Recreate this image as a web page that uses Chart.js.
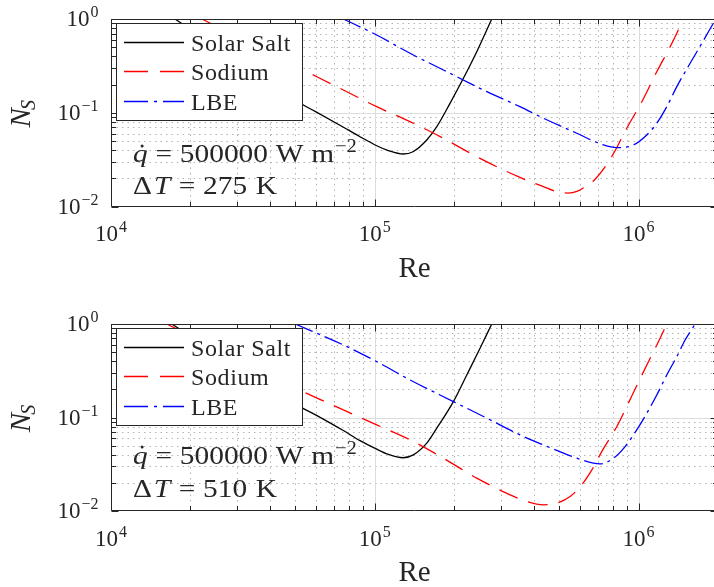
<!DOCTYPE html>
<html>
<head>
<meta charset="utf-8">
<script src="https://cdn.jsdelivr.net/npm/chart.js@4.4.0/dist/chart.umd.min.js"></script>
<style>
html, body { margin: 0; padding: 0; background: #fff; overflow: hidden; }
#wrap { position: relative; width: 714px; height: 587px; overflow: hidden; }
canvas { position: absolute; left: 0; }
</style>
</head>
<body>
<div id="wrap">
  <canvas id="panelA" width="722" height="295" style="top:0"></canvas>
  <canvas id="panelB" width="722" height="292" style="top:295px"></canvas>
</div>
<script>
// Entropy generation number N_S vs Reynolds number, two wall temperature differences
const seriesNames = ['Solar Salt', 'Sodium', 'LBE'];
const heatFlux = 500000;      // W m^-2
const deltaT = [275, 510];    // K, upper / lower panel
const reRange = [1e4, 2e6];
const nsRange = [1e-2, 1];
const xTickExp = [4, 5, 6];
const yTickExp = [0, -1, -2];

// upper panel (ΔT = 275 K)
const reSaltA = [1.748e4, 5.28e4, 5.94e4, 7.58e4, 8.79e4, 1.017e5, 1.126e5, 1.28e5, 1.396e5, 1.574e5, 1.718e5, 1.928e5, 2.167e5, 2.435e5, 2.776e5];
const nsSaltA = [1.0, 0.124, 0.1035, 0.0705, 0.0555, 0.0445, 0.0395, 0.0363, 0.0384, 0.0512, 0.071, 0.126, 0.233, 0.448, 1.0];
const reSodiumA = [2.21e4, 5.36e4, 6.03e4, 7.60e4, 1.017e5, 1.36e5, 1.82e5, 2.435e5, 3.50e5, 4.36e5, 4.82e5, 5.4e5, 5.87e5, 6.36e5, 6.84e5, 7.91e5, 9.02e5, 1.037e6, 1.172e6, 1.336e6, 1.479e6];
const nsSodiumA = [1.0, 0.286, 0.242, 0.175, 0.116, 0.0803, 0.0534, 0.034, 0.0208, 0.0163, 0.0146, 0.0139, 0.0146, 0.0167, 0.0195, 0.034, 0.0684, 0.1368, 0.274, 0.547, 1.0];
const reLbeA = [7.60e4, 1.017e5, 1.36e5, 1.82e5, 2.66e5, 3.55e5, 4.36e5, 5.83e5, 7.36e5, 8.27e5, 9.56e5, 1.074e6, 1.172e6, 1.279e6, 1.396e6, 1.568e6, 1.736e6, 1.921e6, 1.965e6];
const nsLbeA = [1.0, 0.675, 0.431, 0.286, 0.1677, 0.116, 0.0873, 0.0604, 0.0453, 0.0424, 0.0453, 0.0579, 0.0772, 0.116, 0.19, 0.337, 0.55, 0.90, 1.0];

// lower panel (ΔT = 510 K)
const reSaltB = [1.70e4, 5.28e4, 5.94e4, 7.60e4, 8.79e4, 1.017e5, 1.12e5, 1.28e5, 1.40e5, 1.574e5, 1.718e5, 1.986e5, 2.232e5, 2.506e5, 2.776e5];
const nsSaltB = [1.0, 0.1275, 0.1075, 0.0725, 0.0565, 0.0458, 0.0405, 0.0371, 0.0398, 0.0531, 0.0769, 0.148, 0.285, 0.55, 1.0];
const reSodiumB = [1.626e4, 5.68e4, 7.60e4, 1.017e5, 1.36e5, 1.82e5, 2.435e5, 3.256e5, 3.765e5, 4.36e5, 4.90e5, 5.50e5, 6.09e5, 6.65e5, 7.25e5, 8.27e5, 8.89e5, 9.84e5, 1.106e6, 1.189e6, 1.279e6];
const nsSodiumB = [1.0, 0.1744, 0.1206, 0.0834, 0.0577, 0.0367, 0.02246, 0.0149, 0.01263, 0.01165, 0.01214, 0.01428, 0.01905, 0.0275, 0.0432, 0.080, 0.1206, 0.219, 0.43, 0.647, 1.0];
const reLbeB = [4.99e4, 7.60e4, 1.017e5, 1.36e5, 1.986e5, 2.66e5, 3.55e5, 4.36e5, 5.83e5, 6.74e5, 7.14e5, 8.03e5, 8.89e5, 9.84e5, 1.074e6, 1.172e6, 1.279e6, 1.396e6, 1.501e6, 1.614e6, 1.638e6];
const nsLbeB = [1.0, 0.597, 0.396, 0.252, 0.148, 0.0983, 0.0652, 0.0509, 0.0367, 0.0325, 0.0319, 0.0367, 0.0489, 0.0737, 0.111, 0.174, 0.285, 0.448, 0.675, 0.935, 1.0];

const lineColors = ['#000000', '#ff0000', '#0000ff'];
const lineDash = [[], [20, 11], [19, 5, 3, 5]];
const legendDash = [[], [24, 12], [24, 6, 3, 6]];

const SERIF = '"Liberation Serif", "Times New Roman", serif';
const INK = '#262626';

function pts(re, ns) {
    return re.map((r, i) => ({ x: r, y: ns[i] }));
}

// 1..9 x 10^n positions inside [min, max]
function logSteps(min, max) {
    const major = [], minor = [];
    for (let e = Math.floor(Math.log10(min)); e <= Math.ceil(Math.log10(max)); e++) {
        for (let m = 1; m < 10; m++) {
            const v = m * Math.pow(10, e);
            if (v < min * 0.999 || v > max * 1.001) continue;
            (m === 1 ? major : minor).push(v);
        }
    }
    return { major, minor };
}

// "10" with a raised exponent; align = 'center' or 'right'
function drawPow(ctx, exp, x, y, align) {
    const e = String(exp).replace('-', '\u2212');
    ctx.font = '23px ' + SERIF;
    const wb = ctx.measureText('10').width;
    ctx.font = '16px ' + SERIF;
    const we = ctx.measureText(e).width;
    const total = wb + 1 + we;
    const x0 = align === 'center' ? x - total / 2 : x - total;
    ctx.textAlign = 'left';
    ctx.textBaseline = 'alphabetic';
    ctx.font = '23px ' + SERIF;
    ctx.fillText('10', x0, y);
    ctx.font = '16px ' + SERIF;
    ctx.fillText(e, x0 + wb + 1, y - 9);
}

// one line of math-style text, glyphs widened by sx; gaps are in em
function mathRow(ctx, x, y, F, sx, pieces) {
    ctx.save();
    ctx.translate(x, y);
    ctx.scale(sx, 1);
    let cx = 0;
    pieces.forEach(p => {
        if (p.gap !== undefined) { cx += p.gap * F / sx; return; }
        const size = p.sup ? F * 0.7 : F;
        ctx.font = (p.it ? 'italic ' : '') + size + 'px ' + SERIF;
        const w = ctx.measureText(p.t).width;
        ctx.fillText(p.t, cx, p.sup ? -F * 0.38 : 0);
        if (p.dot) {
            ctx.beginPath();
            ctx.ellipse(cx + w * 0.62, -F * 0.63, 1.5 / sx, 1.5, 0, 0, Math.PI * 2);
            ctx.fill();
        }
        cx += w;
    });
    ctx.restore();
}

const matlabAxes = {
    id: 'matlabAxes',
    beforeDraw(chart) {
        const ctx = chart.ctx;
        ctx.save();
        ctx.fillStyle = '#fff';
        ctx.fillRect(0, 0, chart.width, chart.height);
        ctx.restore();
    },
    beforeDatasetsDraw(chart) {
        const { ctx, chartArea: a, scales: { x, y } } = chart;
        const xs = logSteps(reRange[0], reRange[1]);
        const ys = logSteps(nsRange[0], nsRange[1]);
        ctx.save();
        ctx.beginPath();
        ctx.rect(a.left, a.top, a.right - a.left, a.bottom - a.top);
        ctx.clip();
        ctx.lineWidth = 1;
        // minor grid, dotted
        ctx.strokeStyle = '#b4b4b4';
        ctx.setLineDash([1.5, 4]);
        ctx.beginPath();
        xs.minor.forEach(v => {
            const p = Math.round(x.getPixelForValue(v)) + 0.5;
            ctx.moveTo(p, a.top); ctx.lineTo(p, a.bottom);
        });
        ys.minor.forEach(v => {
            const p = Math.round(y.getPixelForValue(v)) + 0.5;
            ctx.moveTo(a.left, p); ctx.lineTo(a.right, p);
        });
        ctx.stroke();
        // decade grid, solid
        ctx.setLineDash([]);
        ctx.strokeStyle = '#dcdcdc';
        ctx.beginPath();
        xs.major.forEach(v => {
            const p = Math.round(x.getPixelForValue(v)) + 0.5;
            ctx.moveTo(p, a.top); ctx.lineTo(p, a.bottom);
        });
        ys.major.forEach(v => {
            const p = Math.round(y.getPixelForValue(v)) + 0.5;
            ctx.moveTo(a.left, p); ctx.lineTo(a.right, p);
        });
        ctx.stroke();
        ctx.restore();
    },
    afterDatasetsDraw(chart, args, opts) {
        const { ctx, chartArea: a, scales: { x, y } } = chart;
        const xs = logSteps(reRange[0], reRange[1]);
        const ys = logSteps(nsRange[0], nsRange[1]);
        const L = Math.round(a.left) + 0.5, R = Math.round(a.right) - 0.5;
        const T = Math.round(a.top) + 0.5, B = Math.round(a.bottom) - 0.5;
        ctx.save();

        // box and inward ticks
        ctx.strokeStyle = INK;
        ctx.lineWidth = 1;
        ctx.setLineDash([]);
        ctx.beginPath();
        ctx.rect(L, T, R - L, B - T);
        [[xs.major, 7], [xs.minor, 4.5]].forEach(([vals, len]) => vals.forEach(v => {
            const p = Math.round(x.getPixelForValue(v)) + 0.5;
            ctx.moveTo(p, B); ctx.lineTo(p, B - len);
            ctx.moveTo(p, T); ctx.lineTo(p, T + len);
        }));
        [[ys.major, 7], [ys.minor, 4.5]].forEach(([vals, len]) => vals.forEach(v => {
            const p = Math.round(y.getPixelForValue(v)) + 0.5;
            ctx.moveTo(L, p); ctx.lineTo(L + len, p);
            ctx.moveTo(R, p); ctx.lineTo(R - len, p);
        }));
        ctx.stroke();

        // tick labels
        ctx.fillStyle = INK;
        xTickExp.forEach(e => drawPow(ctx, e, x.getPixelForValue(Math.pow(10, e)), a.bottom + 34.5, 'center'));
        yTickExp.forEach(e => drawPow(ctx, e, a.left - 12.5, y.getPixelForValue(Math.pow(10, e)) + 7, 'right'));

        // axis labels
        ctx.textAlign = 'center';
        ctx.font = '29px ' + SERIF;
        ctx.fillText('Re', (a.left + a.right) / 2, a.bottom + 70);
        ctx.save();
        ctx.translate(30, (a.top + a.bottom) / 2);
        ctx.rotate(-Math.PI / 2);
        ctx.textAlign = 'left';
        ctx.font = 'italic 29px ' + SERIF;
        const wN = ctx.measureText('N').width;
        ctx.font = 'italic 20px ' + SERIF;
        const wS = ctx.measureText('S').width;
        const x0 = -(wN + wS) / 2;
        ctx.font = 'italic 29px ' + SERIF;
        ctx.fillText('N', x0, 0);
        ctx.font = 'italic 20px ' + SERIF;
        ctx.fillText('S', x0 + wN - 2, 5);
        ctx.restore();

        // heat flux / temperature difference note
        ctx.textAlign = 'left';
        const nx = a.left + 22;
        mathRow(ctx, nx, a.top + opts.noteY[0], 26, 1.13, [
            { t: 'q', it: true, dot: true }, { gap: 0.3 },
            { t: '=' }, { gap: 0.3 },
            { t: String(heatFlux) }, { gap: 0.3 },
            { t: 'W' }, { gap: 0.3 },
            { t: 'm' }, { gap: 0.03 }, { t: '\u22122', sup: true }
        ]);
        mathRow(ctx, nx, a.top + opts.noteY[1], 26, 1.13, [
            { t: '\u0394' }, { gap: 0.08 }, { t: 'T', it: true }, { gap: 0.32 },
            { t: '=' }, { gap: 0.3 },
            { t: String(opts.dT) }, { gap: 0.33 },
            { t: 'K' }
        ]);

        // legend
        const lx = a.left + 5, ly = a.top + opts.legendTop, lw = 186, lh = 97;
        ctx.fillStyle = '#fff';
        ctx.fillRect(lx, ly, lw, lh);
        ctx.strokeStyle = INK;
        ctx.lineWidth = 1;
        ctx.strokeRect(Math.round(lx) + 0.5, Math.round(ly) + 0.5, lw, lh);
        chart.data.datasets.forEach((ds, i) => {
            const cy = Math.round(ly + 18.5 + i * 29.5) + 0.5;
            ctx.strokeStyle = ds.borderColor;
            ctx.lineWidth = ds.borderWidth;
            ctx.setLineDash(ds.legendDash);
            ctx.beginPath();
            ctx.moveTo(lx + 8, cy);
            ctx.lineTo(lx + 68, cy);
            ctx.stroke();
            ctx.setLineDash([]);
            ctx.fillStyle = INK;
            ctx.font = '24px ' + SERIF;
            ctx.letterSpacing = '0.6px';
            ctx.fillText(ds.label, lx + 75, cy + 8);
            ctx.letterSpacing = '0px';
        });
        ctx.restore();
    }
};

function panel(id, sets, dT, pad, noteY, legendTop) {
    return new Chart(document.getElementById(id), {
        type: 'line',
        data: {
            datasets: sets.map((s, i) => ({
                label: seriesNames[i],
                data: pts(s[0], s[1]),
                borderColor: lineColors[i],
                borderWidth: 1.3,
                borderDash: lineDash[i],
                legendDash: legendDash[i],
                pointRadius: 0,
                fill: false,
                cubicInterpolationMode: 'monotone',
                clip: 0,
                order: 3 - i
            }))
        },
        options: {
            responsive: false,
            animation: false,
            events: [],
            layout: { padding: pad },
            scales: {
                x: { type: 'logarithmic', min: reRange[0], max: reRange[1], display: false },
                y: { type: 'logarithmic', min: nsRange[0], max: nsRange[1], display: false }
            },
            plugins: {
                legend: { display: false },
                tooltip: { enabled: false },
                matlabAxes: { dT: dT, noteY: noteY, legendTop: legendTop }
            }
        },
        plugins: [matlabAxes]
    });
}

panel('panelA', [[reSaltA, nsSaltA], [reSodiumA, nsSodiumA], [reLbeA, nsLbeA]], deltaT[0],
    { left: 111, right: 4, top: 19, bottom: 88.5 }, [143.3, 175.3], 4);
panel('panelB', [[reSaltB, nsSaltB], [reSodiumB, nsSodiumB], [reLbeB, nsLbeB]], deltaT[1],
    { left: 111, right: 4, top: 29, bottom: 76 }, [139.5, 172.7], 4);
</script>
</body>
</html>
